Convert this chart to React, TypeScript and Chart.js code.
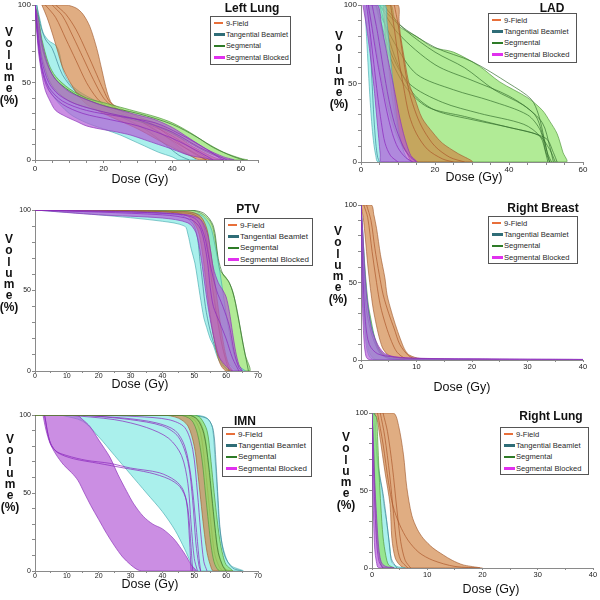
import React, { useEffect, useRef } from 'react';
import { Chart, registerables } from 'chart.js';
Chart.register(...registerables);

type P = number[][];
const FONT = '"Liberation Sans", Arial, Helvetica, sans-serif';

const SERIES = ['9-Field', 'Tangential Beamlet', 'Segmental', 'Segmental Blocked'];
const LEGEND_COLORS = ['#e86f3a', '#2f6d77', '#2e7b27', '#e030ee'];
const Y_TICK_LABELS = [0, 50, 100];
const Y_TITLE = ['V', 'o', 'l', 'u', 'm', 'e', '(%)'];

// ---------------- Left Lung ----------------
const LL_9F_HI = [[2,100],[9,100],[12,98],[14,94],[16,86],[18,72],[19.5,58],[21,44],[22.5,36],[25,32],[30,28],[35,24],[40,18],[45,10],[50,4],[53,1],[55,0]];
const LL_9F_LO = [[2,100],[3.5,92],[5,82],[6.5,71],[8,60],[10,51],[12.5,42],[15,36],[20,30],[25,25],[30,20],[35,14],[40,8],[45,3],[48,0]];
const LL_TB_HI = [[0.5,100],[1.5,90],[2.4,82],[4,77],[6,74],[7,70],[8.2,58],[10,50],[13,44],[17,39],[20,36],[25,31],[30,26],[35,20],[40,12],[44,5],[47,0]];
const LL_TB_LO = [[0,100],[0.5,88],[1.2,72],[2.5,55],[5,42],[10,30],[15,24],[20,20],[25,16],[28,13],[32,9],[36,5],[40,2],[42,0]];
const LL_SEG_HI = [[0,100],[1,92],[2,78],[4,62],[6,54],[10,46],[15,40],[20,37],[25,34],[30,31],[35,28],[40,24],[45,18],[50,11],[55,5],[60,1],[62,0]];
const LL_SEG_LO = [[0,100],[1,82],[2,67],[4,52],[6,45],[10,38],[15,34],[20,31],[25,28],[30,25],[35,22],[40,17],[45,11],[50,5],[55,1],[58,0]];
const LL_SB_HI = [[0,100],[1,90],[2,76],[4,60],[6,52],[10,44],[15,39],[20,35],[25,32],[30,29],[35,26],[40,21],[45,14],[50,7],[55,2],[58,0]];
const LL_SB_LO = [[0,100],[0.5,84],[1,70],[2,55],[3,45],[4.4,38],[6,32],[9,28],[12,25],[15,22],[19,20],[24,18],[28,16],[32,13],[36,10],[40,7],[45,3],[50,1],[52,0]];
const LL_9F_LINES = [
  [[3,100],[6,92],[9,78],[12,64],[15,50],[18,40],[21,34],[26,29],[32,24],[38,18],[44,10],[48,4],[51,0]],
  [[5,100],[8,93],[11,80],[14,66],[17,52],[20,40],[23,34],[30,26],[36,18],[42,10],[47,4],[50,0]],
  [[6,100],[9,94],[12,84],[15,70],[18,55],[20,45],[22,37],[28,30],[35,22],[40,14],[45,6],[49,1],[50,0]],
];
const LL_TB_LINES = [
  [[0.5,100],[1.5,88],[3,78],[5,72],[8,55],[12,44],[18,36],[25,28],[32,20],[38,10],[42,3],[45,0]],
];
const LL_SEG_LINES = [
  [[0,100],[1,85],[3,65],[6,52],[12,42],[20,35],[30,30],[40,23],[47,15],[52,8],[58,2],[61,0]],
];
const LL_SB_LINES = [
  [[0,100],[1,80],[2,64],[4,50],[7,42],[12,36],[20,31],[30,26],[40,18],[48,8],[54,2],[56,0]],
  [[0,100],[1,75],[2,58],[4,45],[8,36],[14,30],[22,26],[30,22],[40,14],[48,5],[52,0]],
  [[0,100],[0.8,78],[2,60],[4,47],[8,38],[15,32],[25,28],[35,24],[42,17],[50,7],[54,1],[55,0]],
];

// ---------------- LAD ----------------
const LAD_9F_HI = [[6.5,100],[10,100],[10.3,90],[10.6,82],[12,62],[13,50],[14.6,40],[16.5,28],[19.5,18.5],[22,12],[26,5.7],[30,0]];
const LAD_9F_LO = [[6,100],[6.6,80],[7.4,62],[8.2,45],[9,32],[10,20],[11,12],[12.5,5],[14,0]];
const LAD_TB_HI = [[2.5,100],[6.5,100],[7,90],[7.5,78],[8,66],[8.5,54],[9,42],[9.7,28],[10.5,16],[11.5,7],[12.5,2],[13.5,0]];
const LAD_TB_LO = [[1,100],[1.5,80],[2,58],[2.5,38],[3,22],[3.5,11],[4,4],[4.6,0]];
const LAD_SEG_HI = [[3,100],[8,100],[9,92],[10.5,86],[15,80],[19.5,73],[25,70],[32,61],[37.5,51],[45,41],[49,33],[51,26],[53,18],[54.6,6],[55.5,0]];
const LAD_SEG_LO = [[2,100],[3.5,80],[5,60],[6.5,42],[8,28],[10,15],[12,7],[14,2],[16,0]];
const LAD_SB_HI = [[1.5,100],[4.5,100],[5.5,88],[6.5,75],[7.5,63],[8.5,52],[9.5,40],[10.5,28],[11.5,18],[12.5,10],[13.5,4],[15,0]];
const LAD_SB_LO = [[0.5,100],[1.5,86],[2.5,68],[3.5,48],[4.2,30],[4.8,15],[5.2,5],[5.5,0]];
const LAD_9F_LINES = [
  [[9,100],[10,88],[11.5,65],[13,45],[15,30],[17,20],[20,10],[24,3],[28,0]],
  [[8,100],[9,85],[10,68],[11.5,48],[13,30],[15,18],[18,8],[22,2],[25,0]],
];
const LAD_TB_LINES = [
  [[2,100],[2.5,75],[3,50],[3.5,28],[4,12],[4.5,3],[5,0]],
];
const LAD_SEG_LINES = [
  [[5,100],[10,88],[20,73],[30,64],[40,50],[46,40],[48,30],[49.5,15],[50.5,4],[51,0]],
  [[5,100],[10,82],[20,62],[30,52],[40,42],[47,30],[49,18],[50.5,5],[51.5,0]],
  [[4,100],[9,76],[15,56],[25,46],[35,39],[45,30],[48.5,20],[50,6],[51,0]],
  [[4,100],[8,70],[13,50],[22,38],[32,31],[44,24],[48.5,16],[50,5],[50.5,0]],
  [[4,100],[7,72],[12,48],[18,35],[28,29],[40,22],[48,17],[51,8],[52.5,0]],
  [[5,100],[9,68],[14,44],[20,33],[30,27],[42,21],[50,15],[52,6],[53,0]],
  [[6,100],[12,84],[20,70],[28,60],[36,46],[44,36],[49,25],[51,10],[52,0]],
];
const LAD_SB_LINES = [
  [[2,100],[3,85],[4,70],[5.5,50],[7,32],[8.5,18],[10,9],[12,3],[14,0]],
  [[3,100],[4.5,82],[6,60],[7.5,40],[9,25],[11,12],[13,4],[15,0]],
  [[1.5,100],[2.5,82],[3.5,62],[4.5,42],[5.5,25],[6.5,12],[8,4],[10,0]],
];

// ---------------- PTV ----------------
const PTV_9F_HI = [[0,100],[48,99],[52,96],[54,88],[55,76],[56,62],[57,47],[58,32],[59,19],[60,9],[61,3],[62,0]];
const PTV_9F_LO = [[0,100],[40,99],[48,96],[51,88],[52.5,74],[53.5,58],[54.5,42],[55.5,28],[56.5,17],[57.5,8],[58.5,3],[60,0]];
const PTV_TB_HI = [[0,100],[45,99],[52,97],[55,90],[56.5,78],[58,62],[59.5,42],[61,24],[62.5,10],[64,3],[66,0]];
const PTV_TB_LO = [[0,100],[20,97],[40,93],[47,90],[48,85],[49,76],[50.2,67],[51.8,47],[53,33],[53.9,27],[55,20],[56,16],[57,10],[58,5.6],[60,1],[62,0]];
const PTV_SEG_HI = [[0,100],[45,100],[50,99.5],[53,97],[55,93],[56,88],[57,76],[58,63],[60,58],[62,50],[63.5,36],[64.5,26],[66,10],[67.5,0]];
const PTV_SEG_LO = [[0,100],[45,99],[50,97],[52,92],[54,80],[55,66],[56,52],[57,38],[58,25],[59,14],[60,7],[62,2],[64,0]];
const PTV_SB_HI = [[0,100],[30,99],[48,97],[52,94],[54,86],[55,76],[56,64],[57.5,55],[59,50],[60,46],[61,37],[62,24],[63,12],[64,4],[65,0]];
const PTV_SB_LO = [[0,100],[20,97],[40,95],[48,92],[50.5,86],[52,72],[53,58],[54,44],[55,32],[56,22],[57,14],[58,8],[60,3],[62,0]];
const PTV_9F_LINES = [
  [[0,100],[48,98],[52,94],[54,80],[55.5,55],[57,35],[58.5,18],[60,6],[61,0]],
];
const PTV_TB_LINES = [
  [[0,100],[45,97],[50,90],[52,65],[53.5,40],[55,25],[57,12],[59,4],[61,0]],
];
const PTV_SEG_LINES = [
  [[0,100],[48,100],[53,98],[56,90],[57.5,70],[59,60],[61,55],[63,42],[65,20],[66.5,5],[67,0]],
];
const PTV_SB_LINES = [
  [[0,100],[40,97],[49,94],[52,88],[54,70],[55,52],[56,40],[58,30],[60,20],[62,8],[64,0]],
  [[0,100],[40,98],[50,95],[53,85],[55,66],[57,50],[59,40],[61,28],[62.5,12],[64,2],[65,0]],
];

// ---------------- Right Breast ----------------
const RB_9F_HI = [[0.1,100],[1.9,100],[2.3,94],[2.8,85],[3.5,68],[4.3,53],[4.7,42],[5.5,31],[6.4,20.6],[7.3,11.6],[8,6],[8.8,3],[10.6,1],[15,0.5],[20,0]];
const RB_9F_LO = [[0,100],[0.4,92],[0.8,78],[1.2,62],[1.7,46],[2.2,33],[2.8,22],[3.4,13],[4,7],[5,3],[6.5,1],[8,0]];
const RB_TB_HI = [[0,100],[0.3,82],[0.7,58],[1.1,40],[1.6,27],[2.1,19],[2.6,12],[3.1,7],[4,3],[6,1],[10,0.5],[20,0]];
const RB_TB_LO = [[0,100],[0.2,60],[0.5,30],[0.8,14],[1.2,5],[1.8,1],[3,0]];
const RB_SEG_HI = [[0,100],[0.35,80],[0.8,55],[1.3,36],[1.8,26],[2.3,17],[2.8,11],[3.5,6],[4.5,3],[7,1],[12,0.5],[25,0]];
const RB_SEG_LO = [[0,100],[0.2,65],[0.5,35],[0.9,16],[1.4,6],[2,2],[3,0]];
const RB_SB_HI = [[0,100],[0.3,85],[0.6,62],[1,42],[1.5,28],[2,19],[3,10],[4,5],[5,3],[7,1.5],[10,1],[20,0.8],[30,0.5],[40,0.3]];
const RB_SB_LO = [[0,100],[0.1,70],[0.2,45],[0.4,22],[0.6,10],[0.8,4],[1.1,1],[2,0],[40,0]];
const RB_9F_LINES = [
  [[0.5,100],[1.2,92],[2,70],[2.8,50],[3.5,35],[4.5,22],[5.5,12],[6.5,5],[8,1],[10,0]],
  [[1,100],[1.8,90],[2.5,72],[3.3,55],[4,42],[5,30],[6,20],[7,10],[8.5,3],[10,0]],
];
const RB_TB_LINES = [
  [[0,100],[0.5,55],[1,32],[1.8,18],[2.6,10],[3.5,4],[5,1],[8,0]],
];
const RB_SEG_LINES = [
  [[0,100],[0.5,62],[1,40],[1.6,26],[2.4,14],[3.2,7],[4.5,2],[7,0]],
];
const RB_SB_LINES = [
  [[0,100],[0.3,60],[0.8,25],[1.5,10],[3,4],[6,2],[12,1],[25,0.6],[40,0.4]],
];

// ---------------- IMN ----------------
const IMN_9F_HI = [[0,100],[48,100],[50,99],[52,95],[53.5,85],[54.5,66],[55.5,46],[56.5,27],[57.5,13],[58.5,5],[60,1],[62,0]];
const IMN_9F_LO = [[0,100],[40,100],[45,98],[48,93],[50,80],[51,65],[52,46],[53,27],[54,12],[55,4],[56,0]];
const IMN_TB_HI = [[8,100],[50,100],[53,99],[54.5,97],[55.7,92],[56.5,73],[57.2,52],[57.8,31],[58.5,20],[59.2,13.5],[60.5,6],[62,2.8],[65.3,0]];
const IMN_TB_LO = [[8,100],[15,96],[20,86],[25,74],[30,62],[35,50],[40,38],[44,26],[47,14],[49,5],[50.5,0]];
const IMN_SEG_HI = [[0,100],[50,100],[52,98],[54,90],[55,75],[56,55],[57,36],[58,20],[59,10],[60,4],[62,0]];
const IMN_SEG_LO = [[0,100],[45,100],[49,97],[51,88],[52.5,70],[53.5,50],[54.5,30],[55.5,13],[56.5,4],[58,0]];
const IMN_SB_HI = [[2.5,100],[13,100],[15,97],[17.3,92.5],[20,84],[23.5,73],[26,62],[28.8,51],[31,43],[34,35],[37,30],[40,27],[43.4,21],[46,14],[47.6,9],[49,4],[50.5,0]];
const IMN_SB_LO = [[2.5,100],[3.5,90],[4.7,82],[6.5,75],[9,68],[11.5,63],[13.5,58],[15.5,50],[17.5,42],[20,33],[22.5,24],[25,16],[27.5,9],[30,4],[32,1],[33.5,0]];
const IMN_9F_LINES = [
  [[0,100],[46,100],[50,97],[52,88],[53.5,65],[54.5,45],[55.5,25],[56.5,10],[58,2],[59,0]],
];
const IMN_TB_LINES = [
  [[20,100],[45,100],[52,99],[54.5,97],[56,90],[56.8,70],[57.5,45],[58.2,25],[59.5,10],[62,2],[65,0]],
];
const IMN_SEG_LINES = [
  [[0,100],[48,100],[51,97],[53,88],[54.5,68],[55.5,48],[56.5,28],[57.5,12],[59,3],[60,0]],
];
const IMN_SB_LINES = [
  [[3,100],[4.5,84],[6.5,77],[10,74],[16,71],[23.5,69],[30,66],[39,63],[44,58],[46.5,52],[48,40],[49,15],[49.5,0]],
  [[3,100],[4.8,82],[7,76],[12,72],[20,69],[28,66],[36,63],[42,59],[45.5,54],[47.5,45],[48.5,20],[49,0]],
  [[10,100],[25,97],[35,92],[42,85],[46,74],[48,56],[49,30],[50,8],[51,0]],
  [[13,100],[28,98],[38,95],[44,90],[47,80],[49,60],[50.5,30],[51.5,8],[52,0]],
  [[18,100],[32,99],[42,97],[47,92],[49.5,78],[51,50],[52,25],[53,6],[54,0]],
  [[15,100],[30,97],[40,93],[45,86],[48,70],[49.5,45],[50.5,18],[51.5,3],[52,0]],
];

// ---------------- Right Lung ----------------
const RL_9F_HI = [[0.2,100],[3.9,100],[4.8,92],[5.7,73],[6.3,52],[7.2,34],[8.2,25],[9.3,19],[11,13],[12.9,8.4],[14.5,5],[16.5,2],[19.5,0]];
const RL_9F_LO = [[0.2,100],[0.85,97],[1.45,84],[2.35,62],[3.26,41],[3.6,19],[4.2,6.5],[5,2],[6,0]];
const RL_TB_HI = [[0.3,100],[0.8,75],[1.2,62],[1.75,52],[2.2,40],[2.65,30],[3,20],[3.26,13],[3.55,4],[4.5,1],[6,0]];
const RL_TB_LO = [[0.2,100],[0.4,70],[0.7,40],[1,20],[1.3,8],[1.6,3],[2,0]];
const RL_SEG_HI = [[0.3,100],[0.8,97],[1,85],[1.3,60],[1.6,40],[2,20],[2.5,8],[3,2],[4,0]];
const RL_SEG_LO = [[0,100],[0.3,75],[0.6,40],[1,15],[1.5,4],[2,0]];
const RL_SB_HI = [[0,100],[0.2,85],[0.5,55],[0.8,35],[1.1,18],[1.4,8],[1.8,3],[2.5,1],[4,0]];
const RL_SB_LO = [[0,90],[0.1,60],[0.3,30],[0.5,12],[0.8,4],[1.2,0]];
const RL_9F_LINES = [
  [[1.5,100],[2.3,85],[3.2,60],[3.9,35],[4.5,15],[5.2,5],[6.5,0]],
  [[2,100],[2.8,88],[3.7,65],[4.5,38],[5.2,17],[6,5],[7,0]],
  [[1,100],[2,80],[3,55],[3.8,40],[5,28],[6.5,18],[8.5,10],[11,5],[15,1],[20,0]],
];
const RL_TB_LINES = [
  [[0.5,100],[1,70],[1.5,58],[2,48],[2.5,35],[3,20],[3.5,6],[4.5,0]],
];
const RL_SEG_LINES: P[] = [];
const RL_SB_LINES = [
  [[0,100],[0.3,60],[0.6,32],[0.9,14],[1.3,4],[2,0]],
];

// ---------------- styling ----------------
const FILL: Record<string, string> = {
  '9F': 'rgba(208,130,66,0.66)',
  TB: 'rgba(125,232,226,0.65)',
  SEG: 'rgba(140,225,100,0.68)',
  SB: 'rgba(178,88,214,0.68)',
};
const EDGE: Record<string, string> = {
  '9F': 'rgba(160,90,45,0.8)',
  TB: 'rgba(70,170,175,0.8)',
  SEG: 'rgba(80,150,60,0.85)',
  SB: 'rgba(140,50,185,0.85)',
};
const LINE: Record<string, string> = {
  '9F': 'rgba(170,85,40,0.85)',
  TB: 'rgba(60,130,150,0.85)',
  SEG: 'rgba(50,110,45,0.85)',
  SB: 'rgba(140,40,190,0.9)',
};

const Y_W = 34, PAD_R = 10, PAD_T = 6, X_H = 14;

interface PanelCfg {
  title: string;
  xMax: number; xTick: number; xLabel: number;
  tickLen: number; tickPad: number; tickFont: number;
  layers: string[];
  bands: Record<string, [P, P]>;
  lines: Record<string, P[]>;
  area: { l: number; t: number; r: number; b: number };
  titlePos: { cx: number; t: number };
  legend: { l: number; t: number; w: number; h: number; fs: number };
  yTitle: { cx: number; t: number };
  xTitle: { cx: number; t: number };
}

const PANELS: PanelCfg[] = [
  {
    title: 'Left Lung', xMax: 65, xTick: 5, xLabel: 20, tickLen: 3, tickPad: 1, tickFont: 8,
    layers: ['TB', '9F', 'SEG', 'SB'],
    bands: { '9F': [LL_9F_HI, LL_9F_LO], TB: [LL_TB_HI, LL_TB_LO], SEG: [LL_SEG_HI, LL_SEG_LO], SB: [LL_SB_HI, LL_SB_LO] },
    lines: { '9F': LL_9F_LINES, TB: LL_TB_LINES, SEG: LL_SEG_LINES, SB: LL_SB_LINES },
    area: { l: 35, t: 5, r: 258, b: 160 },
    titlePos: { cx: 252, t: 2 },
    legend: { l: 210, t: 16, w: 81, h: 49, fs: 7.3 },
    yTitle: { cx: 9, t: 27 },
    xTitle: { cx: 140, t: 173 },
  },
  {
    title: 'LAD', xMax: 60, xTick: 5, xLabel: 20, tickLen: 3, tickPad: 0, tickFont: 8,
    layers: ['SEG', '9F', 'TB', 'SB'],
    bands: { '9F': [LAD_9F_HI, LAD_9F_LO], TB: [LAD_TB_HI, LAD_TB_LO], SEG: [LAD_SEG_HI, LAD_SEG_LO], SB: [LAD_SB_HI, LAD_SB_LO] },
    lines: { '9F': LAD_9F_LINES, TB: LAD_TB_LINES, SEG: LAD_SEG_LINES, SB: LAD_SB_LINES },
    area: { l: 361, t: 5, r: 583, b: 162 },
    titlePos: { cx: 552, t: 2 },
    legend: { l: 488, t: 13, w: 89, h: 50, fs: 7.6 },
    yTitle: { cx: 339, t: 31 },
    xTitle: { cx: 474, t: 171 },
  },
  {
    title: 'PTV', xMax: 70, xTick: 5, xLabel: 10, tickLen: 2, tickPad: -1, tickFont: 7,
    layers: ['SEG', 'TB', '9F', 'SB'],
    bands: { '9F': [PTV_9F_HI, PTV_9F_LO], TB: [PTV_TB_HI, PTV_TB_LO], SEG: [PTV_SEG_HI, PTV_SEG_LO], SB: [PTV_SB_HI, PTV_SB_LO] },
    lines: { '9F': PTV_9F_LINES, TB: PTV_TB_LINES, SEG: PTV_SEG_LINES, SB: PTV_SB_LINES },
    area: { l: 35, t: 210, r: 258, b: 371 },
    titlePos: { cx: 248, t: 203 },
    legend: { l: 224, t: 218, w: 89, h: 48, fs: 8 },
    yTitle: { cx: 9, t: 234 },
    xTitle: { cx: 140, t: 378 },
  },
  {
    title: 'Right Breast', xMax: 40, xTick: 5, xLabel: 10, tickLen: 2, tickPad: 0, tickFont: 7.5,
    layers: ['9F', 'SEG', 'TB', 'SB'],
    bands: { '9F': [RB_9F_HI, RB_9F_LO], TB: [RB_TB_HI, RB_TB_LO], SEG: [RB_SEG_HI, RB_SEG_LO], SB: [RB_SB_HI, RB_SB_LO] },
    lines: { '9F': RB_9F_LINES, TB: RB_TB_LINES, SEG: RB_SEG_LINES, SB: RB_SB_LINES },
    area: { l: 361, t: 205, r: 583, b: 360 },
    titlePos: { cx: 543, t: 202 },
    legend: { l: 488, t: 216, w: 90, h: 48, fs: 7.6 },
    yTitle: { cx: 338, t: 226 },
    xTitle: { cx: 462, t: 381 },
  },
  {
    title: 'IMN', xMax: 70, xTick: 5, xLabel: 10, tickLen: 2, tickPad: -1, tickFont: 7,
    layers: ['TB', 'SB', '9F', 'SEG'],
    bands: { '9F': [IMN_9F_HI, IMN_9F_LO], TB: [IMN_TB_HI, IMN_TB_LO], SEG: [IMN_SEG_HI, IMN_SEG_LO], SB: [IMN_SB_HI, IMN_SB_LO] },
    lines: { '9F': IMN_9F_LINES, TB: IMN_TB_LINES, SEG: IMN_SEG_LINES, SB: IMN_SB_LINES },
    area: { l: 35, t: 415, r: 258, b: 571 },
    titlePos: { cx: 245, t: 415 },
    legend: { l: 222, t: 427, w: 90, h: 50, fs: 8 },
    yTitle: { cx: 10, t: 434 },
    xTitle: { cx: 150, t: 578 },
  },
  {
    title: 'Right Lung', xMax: 40, xTick: 5, xLabel: 10, tickLen: 2, tickPad: 0, tickFont: 7.5,
    layers: ['9F', 'TB', 'SEG', 'SB'],
    bands: { '9F': [RL_9F_HI, RL_9F_LO], TB: [RL_TB_HI, RL_TB_LO], SEG: [RL_SEG_HI, RL_SEG_LO], SB: [RL_SB_HI, RL_SB_LO] },
    lines: { '9F': RL_9F_LINES, TB: RL_TB_LINES, SEG: RL_SEG_LINES, SB: RL_SB_LINES },
    area: { l: 372, t: 413, r: 593, b: 568 },
    titlePos: { cx: 551, t: 410 },
    legend: { l: 500, t: 427, w: 89, h: 48, fs: 7.6 },
    yTitle: { cx: 346, t: 432 },
    xTitle: { cx: 491, t: 583 },
  },
];

const toXY = (pts: P) => pts.map(([x, y]) => ({ x, y }));

function Panel({ p }: { p: PanelCfg }) {
  const ref = useRef<HTMLCanvasElement>(null);
  const W = Math.round(p.area.r - p.area.l) + Y_W + PAD_R;
  const H = Math.round(p.area.b - p.area.t) + PAD_T + X_H;

  useEffect(() => {
    const datasets: any[] = [];
    p.layers.forEach((k) => {
      const [hi, lo] = p.bands[k];
      datasets.push({
        data: toXY([...hi, ...lo.slice().reverse()]),
        fill: 'shape',
        backgroundColor: FILL[k],
        borderColor: EDGE[k],
        borderWidth: 0.8,
        tension: 0.3,
        pointRadius: 0,
      });
      (p.lines[k] || []).forEach((ln) =>
        datasets.push({
          data: toXY(ln),
          fill: false,
          borderColor: LINE[k],
          borderWidth: 0.8,
          tension: 0.3,
          pointRadius: 0,
        })
      );
    });
    const n = datasets.length;
    datasets.forEach((d, i) => (d.order = n - i));

    const axisColor = '#8a8a8a';
    const chart = new Chart(ref.current as HTMLCanvasElement, {
      type: 'line',
      data: { datasets },
      options: {
        animation: false,
        responsive: false,
        layout: { padding: { top: PAD_T, right: PAD_R, left: 0, bottom: 0 } },
        plugins: { legend: { display: false }, tooltip: { enabled: false }, title: { display: false } },
        elements: { point: { radius: 0 } },
        scales: {
          x: {
            type: 'linear',
            min: 0,
            max: p.xMax,
            afterFit: (s: any) => { s.height = X_H; },
            border: { color: axisColor, width: 1 },
            grid: { drawOnChartArea: false, tickLength: p.tickLen, color: axisColor },
            ticks: {
              stepSize: p.xTick,
              maxTicksLimit: 100,
              autoSkip: false,
              maxRotation: 0,
              padding: p.tickPad,
              color: '#222',
              font: { family: FONT, size: p.tickFont },
              callback: (v: any) => (Number(v) % p.xLabel === 0 ? String(v) : ''),
            },
          },
          y: {
            type: 'linear',
            min: 0,
            max: 100,
            afterFit: (s: any) => { s.width = Y_W; },
            border: { color: axisColor, width: 1 },
            grid: { drawOnChartArea: false, tickLength: 3, color: axisColor },
            ticks: {
              stepSize: 10,
              autoSkip: false,
              padding: 1,
              color: '#222',
              font: { family: FONT, size: p.tickFont },
              callback: (v: any) => (Y_TICK_LABELS.includes(Number(v)) ? String(v) : ''),
            },
          },
        },
      } as any,
    });
    return () => chart.destroy();
  }, []);

  return (
    <>
      <canvas
        ref={ref}
        width={W}
        height={H}
        style={{ position: 'absolute', left: p.area.l - Y_W, top: p.area.t - PAD_T, width: W, height: H, display: 'block' }}
      />
      <div
        style={{
          position: 'absolute', left: p.titlePos.cx - 60, width: 120, top: p.titlePos.t,
          textAlign: 'center', fontFamily: FONT, fontWeight: 'bold', fontSize: 12, lineHeight: 1, color: '#111',
        }}
      >
        {p.title}
      </div>
      <div
        style={{
          position: 'absolute', left: p.legend.l, top: p.legend.t, width: p.legend.w, height: p.legend.h,
          border: '1px solid #555', boxSizing: 'border-box', paddingTop: 0.5, paddingLeft: 3,
          fontFamily: FONT, fontSize: p.legend.fs, color: '#2a2a2a', background: '#fff',
        }}
      >
        {SERIES.map((name, i) => (
          <div key={name} style={{ display: 'flex', alignItems: 'center', height: 11.4, whiteSpace: 'nowrap' }}>
            <span
              style={{
                display: 'inline-block', width: i === 0 ? 9 : 11, height: 2.4,
                background: LEGEND_COLORS[i], marginRight: i === 0 ? 3 : 1,
              }}
            />
            <span>{name}</span>
          </div>
        ))}
      </div>
      <div
        style={{
          position: 'absolute', left: p.yTitle.cx - 15, width: 30, top: p.yTitle.t,
          textAlign: 'center', fontFamily: FONT, fontWeight: 'bold', fontSize: 12, lineHeight: '11.3px', color: '#111',
        }}
      >
        {Y_TITLE.map((c, i) => (
          <div key={i}>{c}</div>
        ))}
      </div>
      <div
        style={{
          position: 'absolute', left: p.xTitle.cx - 50, width: 100, top: p.xTitle.t,
          textAlign: 'center', fontFamily: FONT, fontSize: 12.5, lineHeight: 1, color: '#111',
        }}
      >
        Dose (Gy)
      </div>
    </>
  );
}

export default function App() {
  return (
    <div style={{ position: 'absolute', left: 0, top: 0, width: 600, height: 600, background: '#fff', overflow: 'hidden' }}>
      {PANELS.map((p) => (
        <Panel key={p.title} p={p} />
      ))}
    </div>
  );
}
